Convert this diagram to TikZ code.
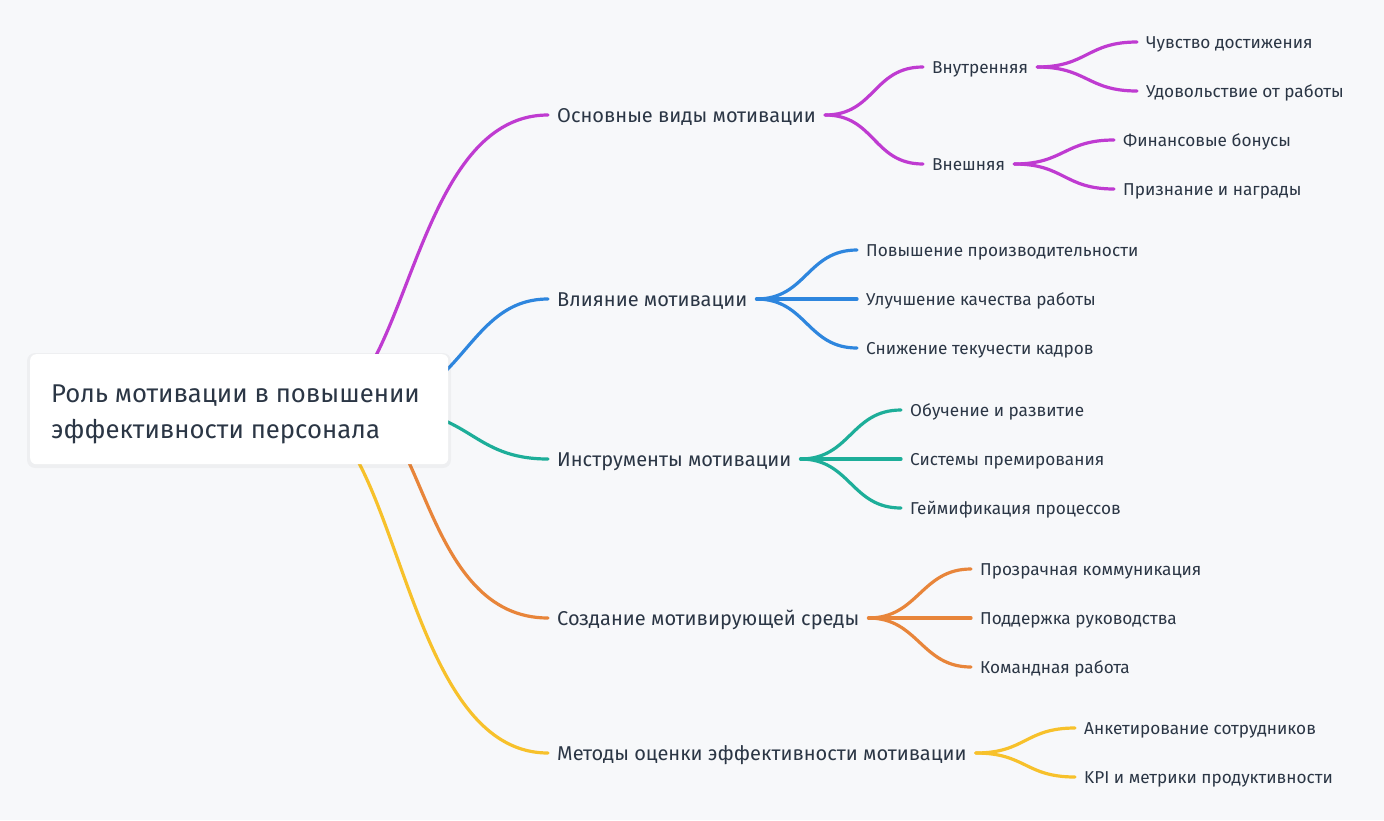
\documentclass[tikz,border=0pt]{standalone}
\usepackage{fontspec}
\setmainfont{Fira Sans}
\definecolor{bgc}{HTML}{F7F8FA}
\definecolor{txt}{HTML}{2B3645}
\definecolor{cmag}{HTML}{BF3BD1}
\definecolor{cblue}{HTML}{2E86DE}
\definecolor{cteal}{HTML}{1DAE99}
\definecolor{corange}{HTML}{E8853A}
\definecolor{cyellow}{HTML}{F7C12B}
\tikzset{
  link/.style={line width=3.2pt, line cap=round},
  lone/.style={anchor=west, inner sep=0pt, text=txt, text height=20pt, text depth=5pt, font=\fontsize{20}{24}\selectfont},
  ltwo/.style={anchor=west, inner sep=0pt, text=txt, text height=17.2pt, text depth=4pt, font=\fontsize{17.2}{20}\selectfont},
  rootbox/.style={fill=white, rounded corners=6pt},
}
\begin{document}
\begin{tikzpicture}[x=1pt,y=-1pt]
\fill[bgc] (0,0) rectangle (1384,820);
\useasboundingbox (0,0) rectangle (1384,820);

% level 1
\node[lone] (a) at (557,115) {Основные виды мотивации};
\node[lone] (b) at (557,299) {Влияние мотивации};
\node[lone] (c) at (557,459) {Инструменты мотивации};
\node[lone] (d) at (557,618) {Создание мотивирующей среды};
\node[lone] (e) at (557,753) {Методы оценки эффективности мотивации};

% level 2 / 3
\node[ltwo] (a1) at (932,67) {Внутренняя};
\node[ltwo] (a2) at (932,164) {Внешняя};
\node[ltwo] (a11) at (1146,42) {Чувство достижения};
\node[ltwo] (a12) at (1146,91) {Удовольствие от работы};
\node[ltwo] (a21) at (1123,140) {Финансовые бонусы};
\node[ltwo] (a22) at (1123,189) {Признание и награды};

\node[ltwo] (b1) at (866,250) {Повышение производительности};
\node[ltwo] (b2) at (866,299) {Улучшение качества работы};
\node[ltwo] (b3) at (866,348) {Снижение текучести кадров};

\node[ltwo] (c1) at (910,410) {Обучение и развитие};
\node[ltwo] (c2) at (910,459) {Системы премирования};
\node[ltwo] (c3) at (910,508) {Геймификация процессов};

\node[ltwo] (d1) at (980,569) {Прозрачная коммуникация};
\node[ltwo] (d2) at (980,618) {Поддержка руководства};
\node[ltwo] (d3) at (980,667) {Командная работа};

\node[ltwo] (e1) at (1084,728) {Анкетирование сотрудников};
\node[ltwo] (e2) at (1084,777) {KPI и метрики продуктивности};

% root curve starts (hidden under the root box)
\coordinate (sa) at (315,410);
\coordinate (sb) at (355,410);
\coordinate (sc) at (388,410);
\coordinate (sd) at (360,410);
\coordinate (se) at (298,410);

\draw[link,cmag] (sa) .. controls +(94,0) and +(-139,0) .. ([xshift=-9pt]a.west);
\draw[link,cblue] (sb) .. controls +(109,0) and +(-84,0) .. ([xshift=-9pt]b.west);
\draw[link,cteal] (sc) .. controls +(83,0) and +(-77,0) .. ([xshift=-9pt]c.west);
\draw[link,corange] (sd) .. controls +(64,0) and +(-124,0) .. ([xshift=-9pt]d.west);
\draw[link,cyellow] (se) .. controls +(102,0) and +(-148,0) .. ([xshift=-9pt]e.west);

% forks
\foreach \p/\c/\col in {a/a1/cmag,a/a2/cmag,a1/a11/cmag,a1/a12/cmag,a2/a21/cmag,a2/a22/cmag,
  b/b1/cblue,b/b2/cblue,b/b3/cblue,c/c1/cteal,c/c2/cteal,c/c3/cteal,
  d/d1/corange,d/d2/corange,d/d3/corange,e/e1/cyellow,e/e2/cyellow}{
  \draw[link,\col] ([xshift=9pt]\p.east) .. controls +(50,0) and +(-50,0) .. ([xshift=-9pt]\c.west);
}

% root box
\fill[black,opacity=0.035,rounded corners=8pt] (27,353) rectangle (451,468);
\node[rootbox, minimum width=418pt, minimum height=110pt, anchor=north west] (root) at (30,354) {};
\node[anchor=base west, inner sep=0pt, text=txt, align=left, font=\fontsize{25.7}{36.5}\selectfont] (rt) at (51,438.5) {Роль мотивации в повышении\\эффективности персонала};
\end{tikzpicture}
\end{document}
